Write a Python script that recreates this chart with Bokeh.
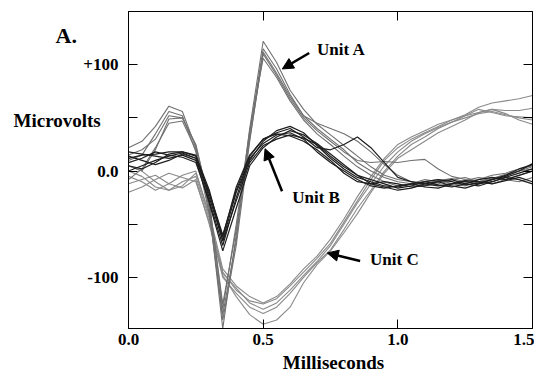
from bokeh.plotting import figure
from bokeh.models import Range1d, FixedTicker, LinearAxis, Label, Arrow, NormalHead, GridBox, Column
from bokeh.embed import file_html
from bokeh.resources import INLINE

# ---------------- data ----------------
time_ms = [0.00, 0.05, 0.10, 0.15, 0.20, 0.25, 0.30, 0.35, 0.40, 0.45,
           0.50, 0.55, 0.60, 0.65, 0.70, 0.75, 0.80, 0.85, 0.90, 0.95,
           1.00, 1.05, 1.10, 1.15, 1.20, 1.25, 1.30, 1.35, 1.40, 1.45, 1.50]

unit_a = [
    [22, 28, 42, 61, 56, 22, -35, -148, -60, 40, 122, 102, 76, 58, 44, 34, 24, 14, 4, -4, -8, -10, -12, -9, -7, -10, -8, -4, -2, 2, 5],
    [10, 15, 35, 56, 52, 18, -40, -135, -65, 35, 115, 96, 72, 52, 40, 30, 20, 8, 0, -6, -10, -12, -8, -10, -12, -9, -6, -8, -4, 0, 2],
    [5, 0, 20, 49, 50, 25, -30, -125, -55, 30, 110, 90, 68, 50, 38, 28, 18, 10, 8, 9, 8, 10, 11, 2, -5, -8, -10, -7, -3, 0, 4],
    [-8, 2, 22, 45, 47, 20, -35, -140, -70, 28, 112, 92, 70, 52, 45, 40, 35, 28, 18, 6, -4, -10, -14, -12, -8, -6, -10, -12, -8, -4, 0],
    [15, 20, 30, 52, 50, 24, -28, -130, -50, 38, 106, 88, 66, 48, 35, 25, 14, 4, -4, -10, -14, -12, -10, -8, -12, -14, -10, -6, -8, -10, -6],
]

unit_b = [
    [12, 15, 16, 18, 18, 14, -25, -65, -20, 10, 28, 38, 42, 36, 24, 12, 2, -6, -10, -14, -15, -12, -10, -13, -15, -12, -8, -6, -8, -4, 0],
    [18, 16, 14, 12, 15, 10, -30, -75, -35, 5, 22, 32, 38, 34, 26, 16, 6, -4, -12, -15, -18, -16, -12, -10, -14, -16, -12, -8, -4, 2, 6],
    [0, 5, 10, 14, 17, 12, -22, -62, -15, 15, 30, 36, 40, 32, 22, 20, 25, 32, 22, 8, -6, -10, -12, -14, -12, -10, -12, -10, -6, -2, 2],
    [8, 12, 18, 15, 13, 8, -28, -70, -25, 12, 26, 34, 36, 30, 18, 8, 0, -8, -14, -16, -14, -12, -15, -16, -12, -9, -10, -12, -9, -6, -10],
    [14, 10, 6, 10, 16, 12, -20, -60, -18, 14, 30, 35, 33, 28, 20, 10, -2, -10, -12, -10, -12, -15, -14, -10, -8, -12, -14, -10, -6, -8, -12],
    [5, 2, 8, 16, 18, 15, -18, -66, -28, 8, 24, 30, 34, 31, 25, 14, 4, -4, -8, -12, -16, -14, -10, -8, -10, -13, -11, -8, -5, 0, 7],
]

unit_c = [
    [0, -5, -15, -18, -10, -5, -45, -95, -112, -122, -125, -120, -108, -95, -82, -68, -48, -28, -8, 10, 22, 30, 36, 42, 48, 53, 60, 64, 66, 68, 71],
    [-12, -8, -4, -12, -16, -8, -50, -100, -115, -128, -134, -128, -115, -100, -86, -74, -55, -35, -18, 0, 14, 25, 32, 40, 46, 52, 58, 55, 52, 51, 50],
    [-20, -15, -8, -2, -6, -10, -48, -98, -118, -135, -144, -140, -128, -105, -88, -75, -58, -40, -20, -2, 12, 20, 28, 36, 42, 48, 55, 58, 54, 48, 44],
    [5, 0, -10, -18, -14, -2, -40, -92, -108, -118, -124, -118, -106, -92, -80, -64, -45, -24, -5, 12, 25, 32, 38, 44, 48, 52, 55, 58, 57, 57, 59],
    [-5, -10, -18, -12, -4, 0, -42, -96, -110, -124, -130, -124, -112, -98, -85, -70, -50, -30, -12, 5, 18, 28, 35, 41, 46, 50, 54, 56, 53, 50, 48],
]

y_label_ticks = [-100, 0, 100]
y_unlabeled_ticks = [-50, 50]
y_tick_labels = {-100: "-100", 0: "0.0", 100: "+100"}
x_ticks = [0.0, 0.5, 1.0, 1.5]
x_tick_labels = {0.0: "0.0", 0.5: "0.5", 1.0: "1.0", 1.5: "1.5"}
x_top_ticks = [0.5, 1.0]

# ---------------- figure ----------------
FONT = "Liberation Serif"
W, H = 534, 375

p = figure(width=W, height=H, x_range=Range1d(0, 1.5), y_range=Range1d(-148, 150),
           output_backend="svg", toolbar_location=None,
           min_border_left=128, min_border_right=2, min_border_top=11, min_border_bottom=47)
p.grid.visible = False
p.outline_line_color = "black"
p.outline_line_width = 1
p.background_fill_color = "white"
p.border_fill_color = "white"

for ax in (p.xaxis[0], p.yaxis[0]):
    ax.major_tick_in = 9
    ax.major_tick_out = 0
    ax.minor_tick_in = 9
    ax.minor_tick_out = 0
    ax.axis_line_color = "black"
    ax.major_tick_line_color = "black"
    ax.minor_tick_line_color = "black"
    ax.major_label_text_font = FONT
    ax.major_label_text_font_style = "bold"
    ax.major_label_text_font_size = "17px"
    ax.major_label_text_color = "black"

p.xaxis.ticker = FixedTicker(ticks=x_ticks, minor_ticks=[])
p.xaxis.major_label_overrides = x_tick_labels
p.xaxis.major_label_standoff = 5
p.yaxis.ticker = FixedTicker(ticks=y_label_ticks, minor_ticks=y_unlabeled_ticks)
p.yaxis.major_label_overrides = y_tick_labels
p.yaxis.major_label_standoff = 10

right_axis = LinearAxis(ticker=FixedTicker(ticks=[], minor_ticks=y_label_ticks + y_unlabeled_ticks),
                        major_tick_in=0, major_tick_out=0, minor_tick_in=9, minor_tick_out=0,
                        major_label_standoff=0, axis_line_color="black",
                        minor_tick_line_color="black")
p.add_layout(right_axis, "right")
top_axis = LinearAxis(ticker=FixedTicker(ticks=[], minor_ticks=x_top_ticks),
                      major_tick_in=0, major_tick_out=0, minor_tick_in=9, minor_tick_out=0,
                      major_label_standoff=0, axis_line_color="black",
                      minor_tick_line_color="black")
p.add_layout(top_axis, "above")

# traces
p.multi_line(xs=[time_ms] * len(unit_c), ys=unit_c, line_color="#8a8a8a", line_width=1.1)
p.multi_line(xs=[time_ms] * len(unit_a), ys=unit_a, line_color="#707070", line_width=1.1)
p.multi_line(xs=[time_ms] * len(unit_b), ys=unit_b, line_color="#1e1e1e", line_width=1.2)

def make_label(x, y, text, size, align="left"):
    return Label(x=x, y=y, text=text,
                 text_font=FONT, text_font_style="bold",
                 text_font_size=size, text_baseline="middle", text_align=align,
                 text_color="black")

# texts inside the plot area
p.add_layout(make_label(0.700, 114, "Unit A", "17px"))
p.add_layout(make_label(0.608, -25, "Unit B", "17px"))
p.add_layout(make_label(0.897, -83, "Unit C", "17px"))

# arrows
for xs, ys, xe, ye in [(0.671, 111, 0.571, 96), (0.570, -19, 0.507, 21), (0.860, -84.5, 0.738, -77)]:
    p.add_layout(Arrow(end=NormalHead(size=11, fill_color="black", line_color="black"),
                       x_start=xs, y_start=ys, x_end=xe, y_end=ye,
                       line_width=2.5, line_color="black"))

# transparent overlay (same size, pixel coordinates) for texts outside the plot frame
ov = figure(width=W, height=H, x_range=Range1d(0, W), y_range=Range1d(H, 0),
            output_backend="svg", toolbar_location=None, min_border=0,
            x_axis_type=None, y_axis_type=None)
ov.grid.visible = False
ov.outline_line_color = None
ov.background_fill_color = None
ov.border_fill_color = None
ov.add_layout(make_label(55, 35, "A.", "22px"))
ov.add_layout(make_label(13, 120, "Microvolts", "19px"))
ov.add_layout(make_label(333, 362, "Milliseconds", "19px", align="center"))

layout = GridBox(children=[(p, 0, 0), (Column(children=[ov]), 0, 0)])

open("out.html", "w").write(file_html(layout, INLINE))
